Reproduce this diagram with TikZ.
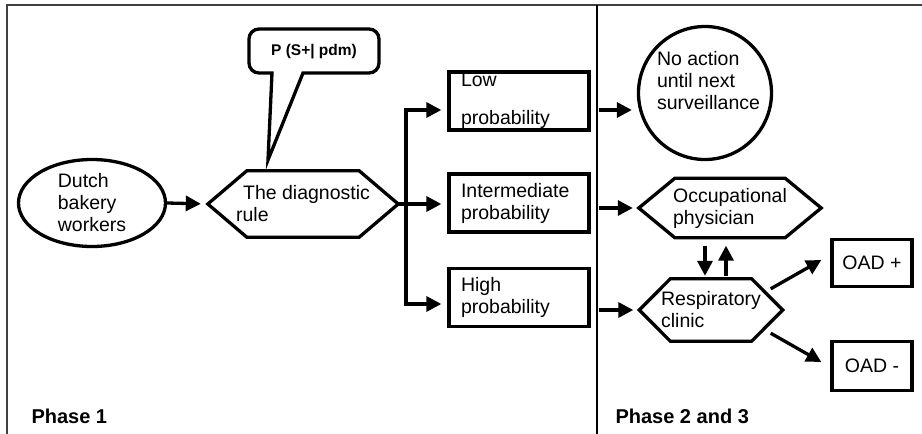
\documentclass[tikz,border=0pt]{standalone}
\usepackage{fontspec}
\setmainfont{Liberation Sans}
\usetikzlibrary{arrows.meta,shapes.geometric}
\def\hexframe(#1)(#2){\draw[shapeline] (#1.west) -- ([xshift=#2]#1.north west) -- ([xshift=-#2]#1.north east) -- (#1.east) -- ([xshift=-#2]#1.south east) -- ([xshift=#2]#1.south west) -- cycle;}

\begin{document}
\begin{tikzpicture}[x=1pt, y=-1pt,
	shapeline/.style={line width=3.3pt},
	txt/.style={font=\fontsize{19.5}{22}\selectfont, align=left},
	probbox/.style={txt, shapeline, draw, text width=116pt, inner xsep=12pt, inner ysep=0pt, minimum height=58pt},
	hexnode/.style={txt, inner sep=0pt},
	oadbox/.style={txt, shapeline, draw, minimum width=80pt, inner sep=0pt},
	arr/.style={line width=3.3pt, -{Triangle[length=15pt,width=15pt]}},
	phase/.style={font=\fontsize{20}{24}\selectfont\bfseries, anchor=base west},
	frameline/.style={line width=1.8pt, black!75}]
			%%%%% START %%%%%
			\useasboundingbox (0,0) rectangle (922,434);
			
			\draw[frameline] (7,434) -- (7,5) -- (922,5);
			\draw[line width=1.8pt] (597,5) -- (597,434);
			
			\node[phase] (ph1) at (28,423) {Phase 1};
			\node[phase] (ph23) at (612,423) {Phase 2 and 3};
			
			\node[txt, shapeline, draw, ellipse, minimum width=147pt, minimum height=87pt, inner sep=0pt] (bakers) at (92,203) {Dutch\\bakery\\workers};
			\node[hexnode, minimum width=190pt, minimum height=66pt] (rule) at (303,204) {\hspace{7pt}The diagnostic\\rule};
			\hexframe(rule)(39pt)
			
			\draw[shapeline] (268,160) -- (303,73) [rounded corners=10pt] -- (379,73) -- (379,29) -- (249,29) -- (249,73) [sharp corners] -- (272,73) -- cycle;
			\node[font=\fontsize{15.5}{18}\selectfont\bfseries] (pdm) at (314,52) {P (S+| pdm)};
			
			\node[probbox] (low) at (519,101) {Low\\[16pt]probability};
			\node[probbox] (mid) at (519,203) {Intermediate\\probability};
			\node[probbox] (high) at (519,297.5) {High\\probability};
			
			\node[shapeline, draw, circle, minimum size=133pt, inner sep=0pt] (noact) at (705,93) {};
			\node[txt] (noacttext) at ([shift={(3.5pt,12pt)}]noact.center) {No action\\until next\\surveillance};
			
			\node[hexnode, minimum width=182pt, minimum height=59pt] (occ) at (730,208) {Occupational\\physician};
			\hexframe(occ)(36pt)
			\node[hexnode, minimum width=143pt, minimum height=62pt] (resp) at (711,310) {Respiratory\\clinic};
			\hexframe(resp)(31pt)
			
			\node[oadbox, minimum height=47pt] (oadp) at (872,263) {OAD +};
			\node[oadbox, minimum height=49pt] (oadm) at (872,366) {OAD -};
			
			\coordinate (brtop) at (406,110);
			\coordinate (brbot) at (406,304);
			
			\draw[arr, shorten >=7pt] (bakers.east) -- (rule.west);
			\draw[shapeline] (rule.east) -- (rule.east -| brtop);
			\draw[arr, shorten >=6pt] (brbot) -- (brtop) -- (brtop -| low.west);
			\draw[arr, shorten >=6pt] (rule.east -| brtop) -- (rule.east -| mid.west);
			\draw[arr, shorten >=6pt] (brtop) -- (brbot) -- (brbot -| high.west);
			
			\draw[arr, shorten <=8pt, shorten >=5pt] (brtop -| low.east) -- (brtop -| noact.west);
			\draw[arr, shorten <=8pt, shorten >=6pt] (mid.east |- occ.west) -- (occ.west);
			\draw[arr, shorten <=8pt, shorten >=6pt] (high.east |- resp.west) -- (resp.west);
			
			\draw[arr, shorten <=8pt, shorten >=3pt] ([xshift=-25pt]occ.south) -- ([xshift=-25pt]occ.south |- resp.north);
			\draw[arr, shorten <=3pt, shorten >=8pt] ([xshift=-4pt]occ.south |- resp.north) -- ([xshift=-4pt]occ.south);
			
			\draw[arr] ([shift={(-12pt,-10pt)}]resp.north east) -- ([shift={(-9pt,3pt)}]oadp.west);
			\draw[arr] ([shift={(-12pt,8pt)}]resp.south east) -- ([shift={(-9pt,4pt)}]oadm.west);
			%%%%% END %%%%%
\end{tikzpicture}
\end{document}
